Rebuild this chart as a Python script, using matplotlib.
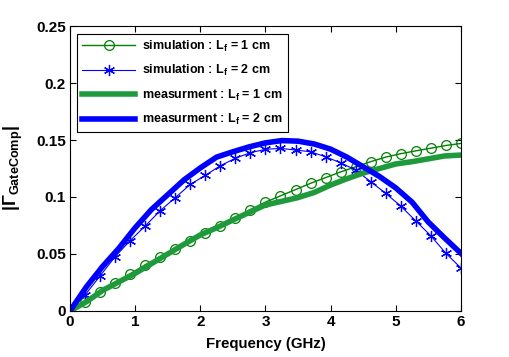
import numpy as np
import matplotlib
matplotlib.use("Agg")
import matplotlib.pyplot as plt

plt.rcParams["font.family"] = ["Liberation Sans", "DejaVu Sans"]
plt.rcParams["font.weight"] = "bold"
plt.rcParams["mathtext.fontset"] = "custom"
plt.rcParams["mathtext.rm"] = "Liberation Sans:bold"
plt.rcParams["mathtext.it"] = "Liberation Sans:bold"
plt.rcParams["mathtext.bf"] = "Liberation Sans:bold"

# simulation (markers every 6/26 GHz)
freq_sim = np.linspace(0, 6, 27)
sim_lf1 = [0, 0.0082, 0.0165, 0.0245, 0.0325, 0.0405, 0.0475, 0.0545, 0.061,
           0.068, 0.0745, 0.0815, 0.089, 0.0955, 0.101, 0.1065, 0.112, 0.117,
           0.122, 0.1265, 0.131, 0.135, 0.138, 0.1405, 0.1428, 0.1452, 0.147]
sim_lf2 = [0, 0.014, 0.0307, 0.0476, 0.0617, 0.0745, 0.088, 0.0994, 0.111,
           0.119, 0.1274, 0.134, 0.1389, 0.1418, 0.1427, 0.1412, 0.1397,
           0.1353, 0.130, 0.1237, 0.1134, 0.1032, 0.092, 0.079, 0.066, 0.0506,
           0.0377]

# measurement
freq_meas = np.arange(0, 6.01, 0.25)
meas_lf1 = [0, 0.008, 0.018, 0.0255, 0.033, 0.0415, 0.050, 0.0585, 0.0667,
            0.073, 0.0798, 0.0865, 0.093, 0.0962, 0.0995, 0.104, 0.1105,
            0.116, 0.121, 0.125, 0.129, 0.131, 0.1335, 0.136, 0.1368]
meas_lf2 = [0, 0.021, 0.039, 0.055, 0.073, 0.089, 0.102, 0.115, 0.1255,
            0.135, 0.1397, 0.144, 0.1475, 0.1495, 0.149, 0.1465, 0.142,
            0.135, 0.1265, 0.118, 0.108, 0.0955, 0.078, 0.064, 0.0506]

green = "#008000"
green_meas = "#1e9a3c"
blue = "#0000ff"

fig = plt.figure(figsize=(5.09, 3.57), dpi=100)
ax = fig.add_axes([0.1375, 0.129, 0.768, 0.798])

ax.plot(freq_sim, sim_lf1, "-o", color=green, lw=1, ms=7,
        mfc="none", mew=0.9, label=r"simulation : $\mathrm{L_f}$ = 1 cm")
ax.plot(freq_sim, sim_lf2, "-", marker=(6, 2, 0), color=blue, lw=0.8,
        ms=8, mew=0.9, label=r"simulation : $\mathrm{L_f}$ = 2 cm")
ax.plot(freq_meas, meas_lf1, "-", color=green_meas, lw=4,
        label=r"measurment : $\mathrm{L_f}$ = 1 cm")
ax.plot(freq_meas, meas_lf2, "-", color=blue, lw=4,
        label=r"measurment : $\mathrm{L_f}$ = 2 cm")

ax.set_xlim(0, 6)
ax.set_ylim(0, 0.25)
ax.set_xticks(range(7))
ax.set_yticks([0, 0.05, 0.1, 0.15, 0.2, 0.25])
ax.set_yticklabels(["0", "0.05", "0.1", "0.15", "0.2", "0.25"])
ax.tick_params(direction="in", top=True, right=True, labelsize=11, length=4,
               pad=3)
for lab in ax.get_xticklabels() + ax.get_yticklabels():
    lab.set_fontweight("bold")

ax.set_xlabel("Frequency (GHz)", fontsize=10.8, fontweight="bold", labelpad=6)
ax.set_ylabel(r"$|\Gamma_{\mathrm{GateComp}}|$", fontsize=13, labelpad=8)

leg = ax.legend(loc="upper left", fontsize=9, handlelength=4.2,
                labelspacing=0.75, fancybox=False, framealpha=1,
                edgecolor="black", borderaxespad=0.6, handletextpad=0.6)
leg.get_frame().set_linewidth(0.8)
for t in leg.get_texts():
    t.set_fontweight("bold")

fig.savefig("out.png", dpi=100)
